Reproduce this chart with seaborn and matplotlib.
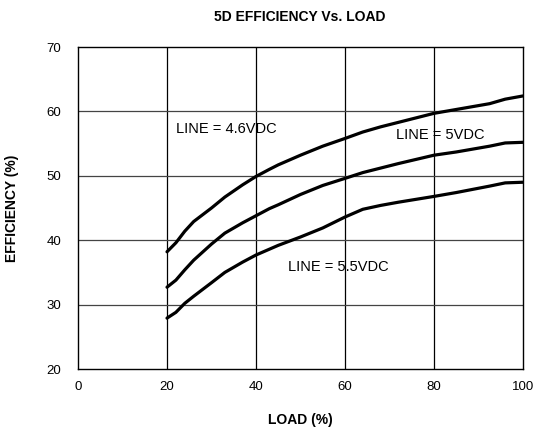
import matplotlib
matplotlib.use("Agg")
import matplotlib.pyplot as plt
import seaborn as sns
import pandas as pd

load = [20, 22, 24, 26, 30, 33, 37, 40, 43, 45, 50, 55, 60, 64, 68, 72, 80, 85, 92.5, 96, 100]
eff_46 = [38.2, 39.6, 41.4, 42.9, 45.0, 46.7, 48.6, 49.9, 51.0, 51.7, 53.2, 54.6, 55.8,
          56.8, 57.6, 58.3, 59.7, 60.3, 61.2, 61.9, 62.4]
eff_50 = [32.7, 33.8, 35.4, 36.9, 39.4, 41.1, 42.7, 43.8, 44.9, 45.5, 47.1, 48.5, 49.6,
          50.5, 51.2, 51.9, 53.2, 53.7, 54.6, 55.1, 55.2]
eff_55 = [27.9, 28.8, 30.2, 31.3, 33.4, 35.0, 36.6, 37.7, 38.6, 39.2, 40.5, 41.9, 43.6,
          44.8, 45.4, 45.9, 46.8, 47.4, 48.4, 48.9, 49.0]
labels = ["LINE = 4.6VDC", "LINE = 5VDC", "LINE = 5.5VDC"]

df = pd.DataFrame({
    "load": load * 3,
    "eff": eff_46 + eff_50 + eff_55,
    "line": [labels[0]] * len(load) + [labels[1]] * len(load) + [labels[2]] * len(load),
})

sns.set_theme(style="white")
plt.rcParams["font.family"] = ["Liberation Sans", "DejaVu Sans"]
plt.rcParams["text.color"] = "black"
plt.rcParams["axes.labelcolor"] = "black"

fig = plt.figure(figsize=(5.33, 4.32), dpi=100)
ax = fig.add_axes([78/533, 1 - 369/432, (523-78)/533, (369-47)/432])

sns.lineplot(data=df, x="load", y="eff", units="line", estimator=None,
             color="black", linewidth=2.3, ax=ax, legend=False)
for l in ax.lines:
    l.set_solid_joinstyle("round")
    l.set_solid_capstyle("round")

ax.set_xlim(0, 100)
ax.set_ylim(20, 70)
ax.set_xticks([0, 20, 40, 60, 80, 100])
ax.set_yticks([20, 30, 40, 50, 60, 70])
for v in [20, 40, 60, 80]:
    ax.axvline(v, color="black", linewidth=0.9, zorder=0)
for v in [30, 40, 50, 60]:
    ax.axhline(v, color="#444444", linewidth=0.9, zorder=0)
for s in ax.spines.values():
    s.set_color("black")
    s.set_linewidth(1.0)
ax.tick_params(axis="both", length=0, labelsize=9.5, colors="black", pad=9)
ax.tick_params(axis="y", pad=12)

ax.text(22.0, 57.3, labels[0], fontsize=10.5, va="center", ha="left", color="black")
ax.text(71.5, 56.4, labels[1], fontsize=10.5, va="center", ha="left", color="black")
ax.text(47.2, 35.8, labels[2], fontsize=10.5, va="center", ha="left", color="black")

ax.set_xlabel("LOAD (%)", fontsize=10, fontweight="bold", labelpad=14)
ax.set_ylabel("EFFICIENCY (%)", fontsize=10, fontweight="bold", labelpad=20)
fig.text(300/533, 1 - 17/432, "5D EFFICIENCY Vs. LOAD", ha="center", va="center",
         fontsize=10, fontweight="bold", color="black")

fig.savefig("out.png", dpi=100, facecolor="white")
